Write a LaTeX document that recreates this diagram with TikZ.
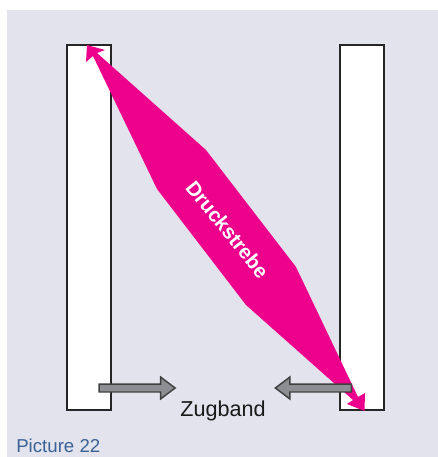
\documentclass[tikz,border=0pt]{standalone}
\usepackage{fontspec}
\setmainfont{Liberation Sans}
\usepackage{xcolor}
\usetikzlibrary{positioning,shapes.arrows}
\definecolor{panelgrey}{RGB}{226,227,236}
\definecolor{strutpink}{RGB}{236,0,140}
\definecolor{arrowgrey}{RGB}{140,142,148}
\definecolor{captionblue}{RGB}{59,98,150}

\begin{document}
\begin{tikzpicture}[
    x=0.75pt, y=-0.75pt,
    wall/.style={rectangle, draw=black!85, fill=white, line width=1.5pt, inner sep=0pt, outer sep=0pt,
                 minimum width=44*0.75pt, minimum height=365*0.75pt},
    tie/.style={single arrow, draw=black!75, fill=arrowgrey, line width=1.1pt, inner sep=0pt, outer sep=0pt,
                text height=6.5*0.75pt, text depth=0pt, minimum height=76*0.75pt,
                single arrow head extend=7*0.75pt, single arrow tip angle=74, single arrow head indent=0pt}
]
\useasboundingbox (0,0) rectangle (438,457);
\fill[panelgrey] (7,10) rectangle (438,457);

\node[wall] (leftwall) at (89,227.5) {};
\node[wall, right=228.5*0.75pt of leftwall] (rightwall) {};

% compression strut with both arrow heads
\fill[strutpink] (87,45) -- (105,50) -- (97,53) -- (206,150) -- (296,267) -- (358,397)
    -- (365,393) -- (364.5,411) -- (347,404) -- (353,400) -- (246,305) -- (157,189) -- (93,56) -- (86,62) -- cycle;
\node[font=\fontsize{15.2}{15.2}\selectfont\bfseries, text=white, rotate=-51] (strutlabel) at (227.5,229.5) {Druckstrebe};

\node[tie] (tieleft) at (134.5,388) {};
\node[tie, shape border rotate=180] (tieright) at (316,388) {};

\node[font=\fontsize{16.2}{16.2}\selectfont, text=black!90] (tielabel) at (223,411) {Zugband};
\node[font=\fontsize{14}{14}\selectfont, text=captionblue, anchor=west, inner sep=0pt] (caption) at (16,446) {Picture 22};
\end{tikzpicture}
\end{document}
